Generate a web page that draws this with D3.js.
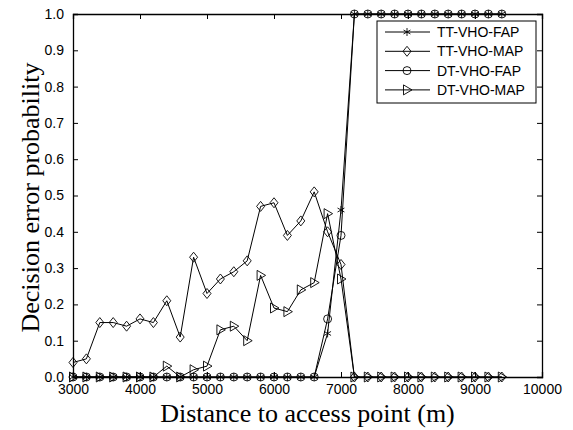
<!DOCTYPE html>
<html>
<head>
<meta charset="utf-8">
<script src="https://cdn.jsdelivr.net/npm/d3@7"></script>
<style>
  html, body { margin: 0; padding: 0; background: #fff; }
  svg { display: block; }
</style>
</head>
<body>
<div id="chart"></div>
<script>
// distances (m), one point every 200 m
const distances = [3000, 3200, 3400, 3600, 3800, 4000, 4200, 4400, 4600, 4800,
  5000, 5200, 5400, 5600, 5800, 6000, 6200, 6400, 6600, 6800,
  7000, 7200, 7400, 7600, 7800, 8000, 8200, 8400, 8600, 8800,
  9000, 9200, 9400];

const ttFap = [0, 0, 0, 0, 0, 0, 0, 0, 0, 0,
  0, 0, 0, 0, 0, 0, 0, 0, 0, 0.12,
  0.46, 1, 1, 1, 1, 1, 1, 1, 1, 1,
  1, 1, 1];
const ttMap = [0.04, 0.05, 0.15, 0.15, 0.14, 0.16, 0.15, 0.21, 0.11, 0.33,
  0.23, 0.27, 0.29, 0.32, 0.47, 0.48, 0.39, 0.43, 0.51, 0.40,
  0.31, 0, 0, 0, 0, 0, 0, 0, 0, 0,
  0, 0, 0];
const dtFap = [0, 0, 0, 0, 0, 0, 0, 0, 0, 0,
  0, 0, 0, 0, 0, 0, 0, 0, 0, 0.16,
  0.39, 1, 1, 1, 1, 1, 1, 1, 1, 1,
  1, 1, 1];
const dtMap = [0, 0, 0, 0, 0, 0, 0, 0.03, 0, 0.02,
  0.03, 0.13, 0.14, 0.10, 0.28, 0.19, 0.18, 0.24, 0.26, 0.45,
  0.27, 0, 0, 0, 0, 0, 0, 0, 0, 0,
  0, 0, 0];

const seriesNames = ['TT-VHO-FAP', 'TT-VHO-MAP', 'DT-VHO-FAP', 'DT-VHO-MAP'];
const seriesValues = [ttFap, ttMap, dtFap, dtMap];
const seriesMarkers = ['star', 'diamond', 'circle', 'triangle'];

const xTicks = [3000, 4000, 5000, 6000, 7000, 8000, 9000, 10000];
const yTicks = [0, 0.1, 0.2, 0.3, 0.4, 0.5, 0.6, 0.7, 0.8, 0.9, 1.0];

const W = 573, H = 430;
const m = { left: 73, right: 31, top: 14, bottom: 53 };
const iw = W - m.left - m.right;
const ih = H - m.top - m.bottom;

const svg = d3.select('#chart').append('svg')
  .attr('width', W).attr('height', H)
  .attr('font-family', 'Liberation Sans, Arial, sans-serif');

const x = d3.scaleLinear().domain([3000, 10000]).range([m.left, m.left + iw]);
const y = d3.scaleLinear().domain([0, 1]).range([m.top + ih, m.top]);

// axes, ticks pointing inward like matlab
const tickLen = 5;
const gx = svg.append('g').attr('transform', `translate(0,${m.top + ih})`)
  .call(d3.axisBottom(x).tickValues(xTicks).tickSize(-tickLen).tickPadding(9).tickFormat(d3.format('d')));
const gxTop = svg.append('g').attr('transform', `translate(0,${m.top})`)
  .call(d3.axisTop(x).tickValues(xTicks).tickSize(-tickLen).tickFormat(''));
const gy = svg.append('g').attr('transform', `translate(${m.left},0)`)
  .call(d3.axisLeft(y).tickValues(yTicks).tickSize(-tickLen).tickPadding(9).tickFormat(d3.format('.1f')));
const gyRight = svg.append('g').attr('transform', `translate(${m.left + iw},0)`)
  .call(d3.axisRight(y).tickValues(yTicks).tickSize(-tickLen).tickFormat(''));

[gx, gxTop, gy, gyRight].forEach((g) => {
  g.select('.domain').attr('stroke', '#000').attr('stroke-width', 1.3);
  g.selectAll('.tick line').attr('stroke', '#000');
  g.selectAll('.tick text').attr('fill', '#000').style('font-size', '14px')
    .style('font-family', 'Liberation Sans, Arial, sans-serif');
});
gx.selectAll('.tick text').attr('dy', '0.6em');

// markers
function drawMarker(g, type, cx, cy) {
  if (type === 'circle') {
    g.append('circle').attr('cx', cx).attr('cy', cy).attr('r', 4)
      .attr('fill', 'none').attr('stroke', '#000').attr('stroke-width', 0.9);
  } else if (type === 'diamond') {
    g.append('path')
      .attr('d', `M${cx},${cy - 5}L${cx + 4},${cy}L${cx},${cy + 5}L${cx - 4},${cy}Z`)
      .attr('fill', 'none').attr('stroke', '#000').attr('stroke-width', 0.9);
  } else if (type === 'triangle') {
    g.append('path')
      .attr('d', `M${cx - 3.5},${cy - 5}L${cx + 5},${cy}L${cx - 3.5},${cy + 5}Z`)
      .attr('fill', 'none').attr('stroke', '#000').attr('stroke-width', 0.9);
  } else {
    const r = 4, a = r * 0.866;
    g.append('path')
      .attr('d', `M${cx},${cy - r}L${cx},${cy + r}M${cx - a},${cy - r / 2}L${cx + a},${cy + r / 2}M${cx - a},${cy + r / 2}L${cx + a},${cy - r / 2}`)
      .attr('fill', 'none').attr('stroke', '#000').attr('stroke-width', 0.9);
  }
}

const line = d3.line().x((d) => x(d[0])).y((d) => y(d[1]));

const plot = svg.append('g');
seriesValues.forEach((vals, i) => {
  const pts = distances.map((d, j) => [d, vals[j]]);
  plot.append('path').datum(pts).attr('d', line)
    .attr('fill', 'none').attr('stroke', '#000').attr('stroke-width', 1);
  const mg = plot.append('g');
  pts.forEach((p) => drawMarker(mg, seriesMarkers[i], x(p[0]), y(p[1])));
});

// legend
const lg = svg.append('g');
lg.append('rect').attr('x', 377).attr('y', 21).attr('width', 159).attr('height', 82)
  .attr('fill', '#fff').attr('stroke', '#000').attr('stroke-width', 1);
seriesNames.forEach((name, i) => {
  const ly = 32 + i * 19.3;
  lg.append('line').attr('x1', 385).attr('x2', 430).attr('y1', ly).attr('y2', ly)
    .attr('stroke', '#000').attr('stroke-width', 1);
  drawMarker(lg, seriesMarkers[i], 407, ly);
  lg.append('text').attr('x', 437).attr('y', ly).attr('dy', '0.36em')
    .style('font-size', '14px').text(name);
});

// axis titles
svg.append('text')
  .attr('x', m.left + iw / 2).attr('y', 422)
  .attr('text-anchor', 'middle')
  .style('font-family', 'Liberation Serif, Times New Roman, serif')
  .style('font-size', '26px')
  .text('Distance to access point (m)');

svg.append('text')
  .attr('transform', `translate(39,${m.top + ih / 2 + 2}) rotate(-90)`)
  .attr('text-anchor', 'middle')
  .style('font-family', 'Liberation Serif, Times New Roman, serif')
  .style('font-size', '26px')
  .text('Decision error probability');
</script>
</body>
</html>
